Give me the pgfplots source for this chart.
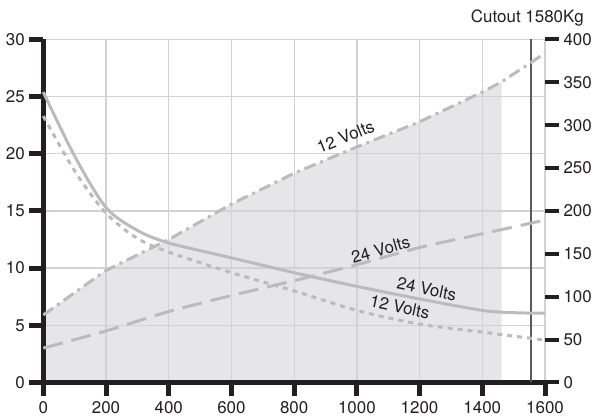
\documentclass[border=0pt]{standalone}
\usepackage{fontspec}
\setmainfont{TeX Gyre Heros}
\usepackage{pgfplots}
\pgfplotsset{compat=1.18}
\definecolor{axblack}{HTML}{231F20}
\definecolor{curve}{HTML}{BBBBBB}
\definecolor{fillg}{HTML}{E6E6E8}
\definecolor{gridg}{HTML}{D2D2D2}
\definecolor{cutg}{HTML}{5A5A5A}
\begin{document}
\begin{tikzpicture}
\begin{axis}[
  set layers,
  scale only axis, width=501.7bp, height=342.9bp,
  xmin=0, xmax=1600, ymin=0, ymax=30,
  axis x line*=bottom, axis y line*=left,
  axis line style={-, line width=5bp, axblack},
  xtick={0,200,...,1600}, ytick={0,5,...,30},
  grid=major, major grid style={gridg, line width=1.3bp},
  tick align=outside, major tick length=14bp,
  major tick style={line width=5bp, axblack},
  ticklabel style={font=\fontsize{17}{20}\selectfont, text=axblack},
  xticklabel style={yshift=-2bp},
  yticklabel style={xshift=-1bp},
  /pgf/number format/assume math mode=true,
  /pgf/number format/1000 sep={},
  clip=false,
]
\coordinate (sw) at (axis cs:0,0);
\coordinate (ne) at (axis cs:1600,30);
% shaded area under the upper 12 Volts curve
\addplot[draw=none, fill=fillg, on layer=axis background] coordinates {
 (0,0) (0,5.9) (200,9.8) (400,12.5) (600,15.6) (800,18.3) (1000,20.6) (1200,22.8) (1400,25.4) (1462,26.3) (1462,0)} -- cycle;
% cutout line
\addplot[cutg, line width=2bp] coordinates {(1554,0) (1554,30)};
% 12 Volts rising (dash dot)
\addplot[curve, line width=3bp, dash pattern=on 12bp off 5bp on 3bp off 5bp] coordinates {
 (0,5.9) (200,9.8) (400,12.5) (600,15.6) (800,18.3) (1000,20.6) (1200,22.8) (1400,25.4) (1462,26.3) (1600,28.8)};
% 24 Volts rising (long dash)
\addplot[curve, line width=3bp, smooth, tension=0.4, dash pattern=on 20bp off 9bp] coordinates {
 (0,3.0) (200,4.5) (400,6.2) (600,7.6) (800,8.9) (1000,10.3) (1200,11.8) (1400,13.0) (1600,14.2)};
% 24 Volts falling (solid)
\addplot[curve, line width=3bp, smooth, tension=0.5] coordinates {
 (0,25.4) (100,19.8) (200,15.3) (300,13.3) (400,12.2) (600,10.9) (800,9.6) (1000,8.4) (1200,7.3) (1400,6.3) (1500,6.1) (1600,6.05)};
% 12 Volts falling (dotted)
\addplot[curve, line width=3bp, smooth, tension=0.5, dash pattern=on 5bp off 5bp] coordinates {
 (0,23.3) (100,18.5) (200,14.8) (300,12.6) (400,11.4) (600,9.6) (800,8.0) (1000,6.3) (1200,5.1) (1400,4.4) (1600,3.7)};
\node[rotate=22, font=\fontsize{17}{20}\selectfont, text=axblack] at (axis cs:964,21.5) {12 Volts};
\node[rotate=16, font=\fontsize{17}{20}\selectfont, text=axblack] at (axis cs:1076,11.6) {24 Volts};
\node[rotate=-12, font=\fontsize{17}{20}\selectfont, text=axblack] at (axis cs:1223,8.2) {24 Volts};
\node[rotate=-12, font=\fontsize{17}{20}\selectfont, text=axblack] at (axis cs:1137,6.6) {12 Volts};
\node[anchor=base east, font=\fontsize{17}{20}\selectfont, text=axblack, inner sep=0pt] at ([xshift=39bp,yshift=16.5bp]axis cs:1600,30) {Cutout 1580Kg};
\end{axis}
\begin{axis}[
  scale only axis, width=501.7bp, height=342.9bp,
  xmin=0, xmax=1600, ymin=0, ymax=400,
  axis y line*=right, hide x axis,
  y axis line style={draw=none},
  ytick={0,50,...,400},
  tick align=outside, major tick length=14bp,
  major tick style={line width=4bp, axblack},
  ticklabel style={font=\fontsize{17}{20}\selectfont, text=axblack},
  yticklabel style={xshift=1bp},
  /pgf/number format/assume math mode=true,
]
\end{axis}
\pgfresetboundingbox
\path[use as bounding box] ([xshift=-43.3bp,yshift=-35.6bp]sw) rectangle ([xshift=52bp,yshift=39.5bp]ne);
\end{tikzpicture}
\end{document}
